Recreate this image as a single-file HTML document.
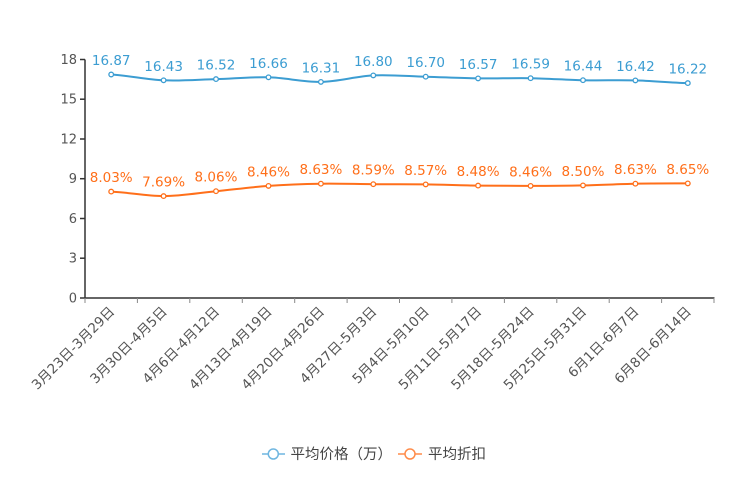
<!DOCTYPE html>
<html><head><meta charset="utf-8"><style>
html,body{margin:0;padding:0;background:#fff;}
svg{display:block;}
text{font-family:"DejaVu Sans","Liberation Sans","Noto Sans CJK SC",sans-serif;}
</style></head><body>
<svg width="744" height="496" viewBox="0 0 744 496" xmlns="http://www.w3.org/2000/svg">
<g stroke="#333" stroke-width="1.5" fill="none">
<line x1="85" y1="59.5" x2="85" y2="298.5"/>
<line x1="84.5" y1="298" x2="714.5" y2="298"/>
<line x1="80" y1="59.5" x2="85" y2="59.5"/>
<line x1="80" y1="99.2" x2="85" y2="99.2"/>
<line x1="80" y1="139" x2="85" y2="139"/>
<line x1="80" y1="178.7" x2="85" y2="178.7"/>
<line x1="80" y1="218.5" x2="85" y2="218.5"/>
<line x1="80" y1="258.2" x2="85" y2="258.2"/>
<line x1="80" y1="298" x2="85" y2="298"/>
</g>
<g stroke="#888" stroke-width="1">
<line x1="85" y1="298" x2="85" y2="303"/>
<line x1="137.4" y1="298" x2="137.4" y2="303"/>
<line x1="189.8" y1="298" x2="189.8" y2="303"/>
<line x1="242.3" y1="298" x2="242.3" y2="303"/>
<line x1="294.7" y1="298" x2="294.7" y2="303"/>
<line x1="347.1" y1="298" x2="347.1" y2="303"/>
<line x1="399.5" y1="298" x2="399.5" y2="303"/>
<line x1="451.9" y1="298" x2="451.9" y2="303"/>
<line x1="504.4" y1="298" x2="504.4" y2="303"/>
<line x1="556.8" y1="298" x2="556.8" y2="303"/>
<line x1="609.2" y1="298" x2="609.2" y2="303"/>
<line x1="661.6" y1="298" x2="661.6" y2="303"/>
<line x1="714" y1="298" x2="714" y2="303"/>
</g>
<g font-size="13" fill="#555" text-anchor="end">
<text x="77" y="64">18</text>
<text x="77" y="103.7">15</text>
<text x="77" y="143.5">12</text>
<text x="77" y="183.2">9</text>
<text x="77" y="223">6</text>
<text x="77" y="262.7">3</text>
<text x="77" y="302.5">0</text>
</g>
<g font-size="13.5" fill="#555" text-anchor="end">
<text transform="translate(112,309) rotate(-45)" dy="0.35em">3月23日-3月29日</text>
<text transform="translate(164.4,309) rotate(-45)" dy="0.35em">3月30日-4月5日</text>
<text transform="translate(216.8,309) rotate(-45)" dy="0.35em">4月6日-4月12日</text>
<text transform="translate(269.3,309) rotate(-45)" dy="0.35em">4月13日-4月19日</text>
<text transform="translate(321.7,309) rotate(-45)" dy="0.35em">4月20日-4月26日</text>
<text transform="translate(374.1,309) rotate(-45)" dy="0.35em">4月27日-5月3日</text>
<text transform="translate(426.5,309) rotate(-45)" dy="0.35em">5月4日-5月10日</text>
<text transform="translate(478.9,309) rotate(-45)" dy="0.35em">5月11日-5月17日</text>
<text transform="translate(531.4,309) rotate(-45)" dy="0.35em">5月18日-5月24日</text>
<text transform="translate(583.8,309) rotate(-45)" dy="0.35em">5月25日-5月31日</text>
<text transform="translate(636.2,309) rotate(-45)" dy="0.35em">6月1日-6月7日</text>
<text transform="translate(688.6,309) rotate(-45)" dy="0.35em">6月8日-6月14日</text>
</g>
<path fill="none" stroke="#3c9dd2" stroke-width="2" d="M111.2,74.5 C128.7,75.5 146.1,79.5 163.6,80.3 C181.1,81.1 198.5,79.6 216.0,79.1 C233.5,78.6 251.0,76.8 268.5,77.3 C286.0,77.8 303.4,82.2 320.9,81.9 C338.4,81.6 355.8,76.3 373.3,75.4 C390.8,74.5 408.2,76.2 425.7,76.7 C443.2,77.2 460.6,78.2 478.1,78.4 C495.6,78.6 513.1,77.9 530.6,78.2 C548.1,78.5 565.5,79.8 583.0,80.2 C600.5,80.6 617.9,79.9 635.4,80.4 C652.9,80.9 670.3,82.7 687.8,83.1"/>
<g fill="#fff" stroke="#3c9dd2" stroke-width="1.3">
<circle cx="111.2" cy="74.5" r="2.3"/><circle cx="163.6" cy="80.3" r="2.3"/><circle cx="216.0" cy="79.1" r="2.3"/><circle cx="268.5" cy="77.3" r="2.3"/><circle cx="320.9" cy="81.9" r="2.3"/><circle cx="373.3" cy="75.4" r="2.3"/><circle cx="425.7" cy="76.7" r="2.3"/><circle cx="478.1" cy="78.4" r="2.3"/><circle cx="530.6" cy="78.2" r="2.3"/><circle cx="583.0" cy="80.2" r="2.3"/><circle cx="635.4" cy="80.4" r="2.3"/><circle cx="687.8" cy="83.1" r="2.3"/>
</g>
<g font-size="13.5" fill="#3c9dd2" text-anchor="middle">
<text x="111.2" y="65">16.87</text><text x="163.6" y="70.8">16.43</text><text x="216.0" y="69.6">16.52</text><text x="268.5" y="67.8">16.66</text><text x="320.9" y="72.4">16.31</text><text x="373.3" y="65.9">16.80</text><text x="425.7" y="67.2">16.70</text><text x="478.1" y="68.9">16.57</text><text x="530.6" y="68.7">16.59</text><text x="583.0" y="70.7">16.44</text><text x="635.4" y="70.9">16.42</text><text x="687.8" y="73.6">16.22</text>
</g>
<path fill="none" stroke="#ff6f1a" stroke-width="2" d="M111.2,191.6 C128.7,192.35 146.1,196.17 163.6,196.1 C181.1,196.03 198.5,192.9 216.0,191.2 C233.5,189.5 251.0,187.15 268.5,185.9 C286.0,184.65 303.4,183.98 320.9,183.7 C338.4,183.42 355.8,184.08 373.3,184.2 C390.8,184.32 408.2,184.17 425.7,184.4 C443.2,184.63 460.6,185.35 478.1,185.6 C495.6,185.85 513.1,185.93 530.6,185.9 C548.1,185.87 565.5,185.77 583.0,185.4 C600.5,185.03 617.9,184.03 635.4,183.7 C652.9,183.37 670.3,183.45 687.8,183.4"/>
<g fill="#fff" stroke="#ff6f1a" stroke-width="1.3">
<circle cx="111.2" cy="191.6" r="2.3"/><circle cx="163.6" cy="196.1" r="2.3"/><circle cx="216.0" cy="191.2" r="2.3"/><circle cx="268.5" cy="185.9" r="2.3"/><circle cx="320.9" cy="183.7" r="2.3"/><circle cx="373.3" cy="184.2" r="2.3"/><circle cx="425.7" cy="184.4" r="2.3"/><circle cx="478.1" cy="185.6" r="2.3"/><circle cx="530.6" cy="185.9" r="2.3"/><circle cx="583.0" cy="185.4" r="2.3"/><circle cx="635.4" cy="183.7" r="2.3"/><circle cx="687.8" cy="183.4" r="2.3"/>
</g>
<g font-size="13.5" fill="#ff6f1a" text-anchor="middle">
<text x="111.2" y="182">8.03%</text><text x="163.6" y="186.5">7.69%</text><text x="216.0" y="181.6">8.06%</text><text x="268.5" y="176.3">8.46%</text><text x="320.9" y="174.1">8.63%</text><text x="373.3" y="174.6">8.59%</text><text x="425.7" y="174.8">8.57%</text><text x="478.1" y="176">8.48%</text><text x="530.6" y="176.3">8.46%</text><text x="583.0" y="175.8">8.50%</text><text x="635.4" y="174.1">8.63%</text><text x="687.8" y="173.8">8.65%</text>
</g>
<line x1="262" y1="454" x2="285" y2="454" stroke="#6fb6e0" stroke-width="1.5"/>
<circle cx="273.3" cy="454" r="5" fill="#fff" stroke="#6fb6e0" stroke-width="1.5"/>
<text x="290.5" y="459" font-size="14.5" fill="#444" font-family="'Noto Sans CJK SC',sans-serif">平均价格（万）</text>
<line x1="398" y1="454" x2="422" y2="454" stroke="#ff8c4a" stroke-width="1.5"/>
<circle cx="410" cy="454" r="5" fill="#fff" stroke="#ff8c4a" stroke-width="1.5"/>
<text x="428" y="459" font-size="14.5" fill="#444" font-family="'Noto Sans CJK SC',sans-serif">平均折扣</text>
</svg>
</body></html>
